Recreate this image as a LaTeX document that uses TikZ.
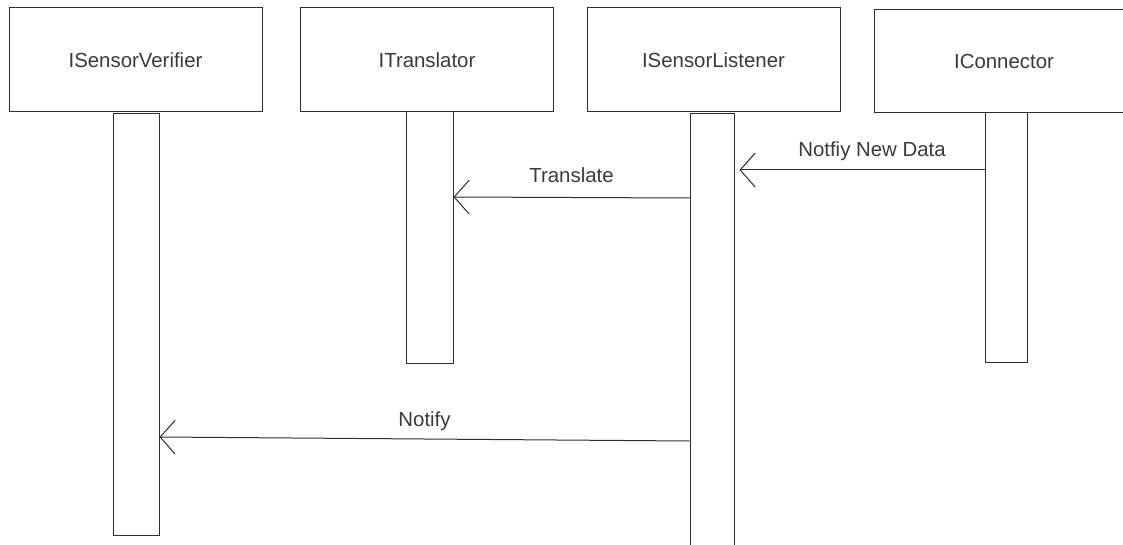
\documentclass[tikz,border=0pt]{standalone}
\usepackage{fontspec}
\setmainfont{Liberation Sans}
\usetikzlibrary{arrows.meta}
\definecolor{ink}{HTML}{2E2E2E}
\definecolor{txt}{HTML}{3A3A3A}
\begin{document}
\begin{tikzpicture}[x=0.5pt,y=-0.5pt,
  font=\fontsize{10.2pt}{12pt}\selectfont,
  lifebox/.style={draw=ink,line width=0.5pt,rectangle,inner sep=0pt,
    minimum width=126.5pt,minimum height=52pt,text=txt},
  actbar/.style={draw=ink,line width=0.5pt,rectangle,inner sep=0pt,fill=white},
  msg/.style={draw=ink,line width=0.5pt,
    -{Straight Barb[length=7.5pt,width=17pt,line width=0.5pt]}},
  msglabel/.style={text=txt,inner sep=0pt,anchor=base}]
\useasboundingbox (0,0) rectangle (1123,545);
\clip (0,0) rectangle (1123,545);
% lifeline heads
\node[lifebox] (ver) at (135.5,60) {ISensorVerifier};
\node[lifebox] (tra) at (427,60) {ITranslator};
\node[lifebox] (lis) at (713.5,60) {ISensorListener};
\node[lifebox,minimum width=130pt,minimum height=51.5pt] (con) at (1004,61.5) {IConnector};
% activation bars
\node[actbar,minimum width=23pt,minimum height=210.5pt] (verbar) at (136,324.5) {};
\node[actbar,minimum width=23.5pt,minimum height=125.5pt] (trabar) at (429.5,237.5) {};
\node[actbar,minimum width=22pt,minimum height=225pt] (lisbar) at (712,339) {};
\node[actbar,minimum width=21pt,minimum height=124.5pt] (conbar) at (1006,237.5) {};
% messages
\draw[msg,shorten >=2.5pt] (conbar.west |- 0,170) -- (lisbar.east |- 0,170)
  node[msglabel,pos=0.45,yshift=6.5pt] {Notfiy New Data};
\draw[msg] (lisbar.west |- 0,198) -- (trabar.east |- 0,197)
  node[msglabel,midway,yshift=7.5pt] {Translate};
\draw[msg] (lisbar.west |- 0,441) -- (verbar.east |- 0,437)
  node[msglabel,midway,yshift=6.5pt] {Notify};
\end{tikzpicture}
\end{document}
